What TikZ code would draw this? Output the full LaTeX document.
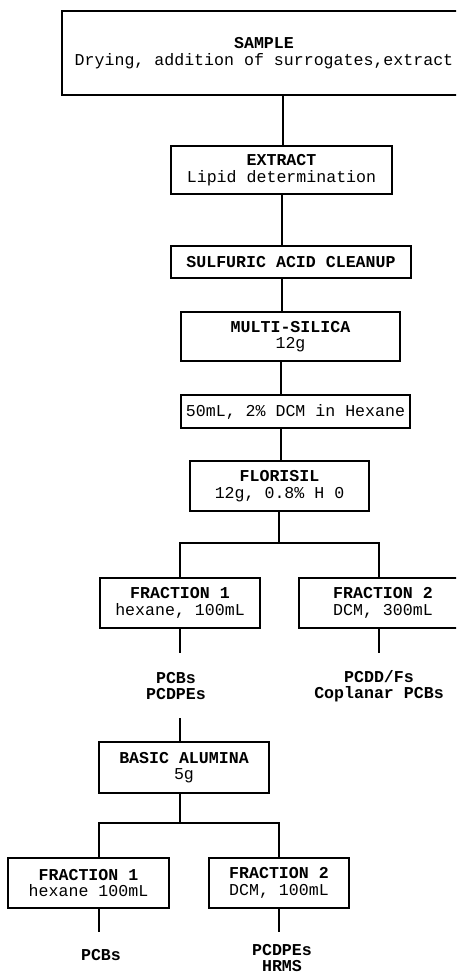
\documentclass[tikz,border=0pt]{standalone}
\usepackage{fontspec}
\setmonofont{Liberation Mono}
\begin{document}
\begin{tikzpicture}[x=1pt,y=-1pt,
  every node/.style={font=\ttfamily\fontsize{16.6}{16.5}\selectfont, inner sep=0pt, align=center},
  box/.style={draw, line width=1.2pt},
  conn/.style={line width=1.2pt}]
\useasboundingbox (0,0) rectangle (456,975);
\clip (0,0) rectangle (456,975);
% boxes
\node[box, minimum width=404pt, minimum height=84pt] (sample) at (264,53) {\textbf{SAMPLE}\\Drying, addition of surrogates,extract};
\node[box, minimum width=221pt, minimum height=48pt] (extract) at (281.5,170) {\textbf{EXTRACT}\\Lipid determination};
\node[box, minimum width=240pt, minimum height=32pt] (sulf) at (291,262) {\textbf{SULFURIC ACID CLEANUP}};
\node[box, minimum width=219pt, minimum height=49pt] (multi) at (290.5,336.5) {\textbf{MULTI-SILICA}\\12g};
\node[box, minimum width=229pt, minimum height=33pt] (dcm) at (295.5,411.5) {50mL, 2\% DCM in Hexane};
\node[box, minimum width=179pt, minimum height=50pt] (flor) at (279.5,486) {\textbf{FLORISIL}\\12g, 0.8\% H 0};
\node[box, minimum width=160pt, minimum height=50pt] (fa1) at (180,603) {\textbf{FRACTION 1}\\hexane, 100mL};
\node[box, minimum width=168pt, minimum height=50pt] (fa2) at (383,603) {\textbf{FRACTION 2}\\DCM, 300mL};
\node (ra1) at (176,686) {\textbf{PCBs}\\\textbf{PCDPEs}};
\node (ra2) at (379,686) {\textbf{PCDD/Fs}\\\textbf{Coplanar PCBs}};
\node[box, minimum width=170pt, minimum height=51pt] (basic) at (184,767.5) {\textbf{BASIC ALUMINA}\\5g};
\node[box, minimum width=161pt, minimum height=50pt] (fb1) at (88.5,883) {\textbf{FRACTION 1}\\hexane 100mL};
\node[box, minimum width=140pt, minimum height=50pt] (fb2) at (279,883) {\textbf{FRACTION 2}\\DCM, 100mL};
\node (rb1) at (101,955) {\textbf{PCBs}};
\node (rb2) at (282,958) {\textbf{PCDPEs}\\\textbf{HRMS}};
% spine coordinates
\coordinate (sp1) at (283,0);
\coordinate (sp2) at (282,0);
\coordinate (sp3) at (281,0);
\draw[conn] (sample.south -| sp1) -- (extract.north -| sp1);
\draw[conn] (extract.south -| sp2) -- (sulf.north -| sp2);
\draw[conn] (sulf.south -| sp2) -- (multi.north -| sp2);
\draw[conn] (multi.south -| sp3) -- (dcm.north -| sp3);
\draw[conn] (dcm.south -| sp3) -- (flor.north -| sp3);
% first branch
\coordinate (br1) at (279,543);
\coordinate (c1) at (180,543);
\coordinate (c2) at (379,543);
\draw[conn] (flor.south -| br1) -- (br1);
\draw[conn] (fa1.north -| c1) -- (c1) -- (c2) -- (fa2.north -| c2);
\coordinate (t1) at (180,653);
\coordinate (t2) at (379,653);
\draw[conn] (fa1.south -| t1) -- (t1);
\draw[conn] (fa2.south -| t2) -- (t2);
\coordinate (u1) at (180,718);
\draw[conn] (u1) -- (basic.north -| u1);
% second branch
\coordinate (br2) at (180,823);
\coordinate (d1) at (99,823);
\coordinate (d2) at (279,823);
\draw[conn] (basic.south -| br2) -- (br2);
\draw[conn] (fb1.north -| d1) -- (d1) -- (d2) -- (fb2.north -| d2);
\coordinate (e1) at (99,932);
\coordinate (e2) at (279,932);
\draw[conn] (fb1.south -| e1) -- (e1);
\draw[conn] (fb2.south -| e2) -- (e2);
\end{tikzpicture}
\end{document}
